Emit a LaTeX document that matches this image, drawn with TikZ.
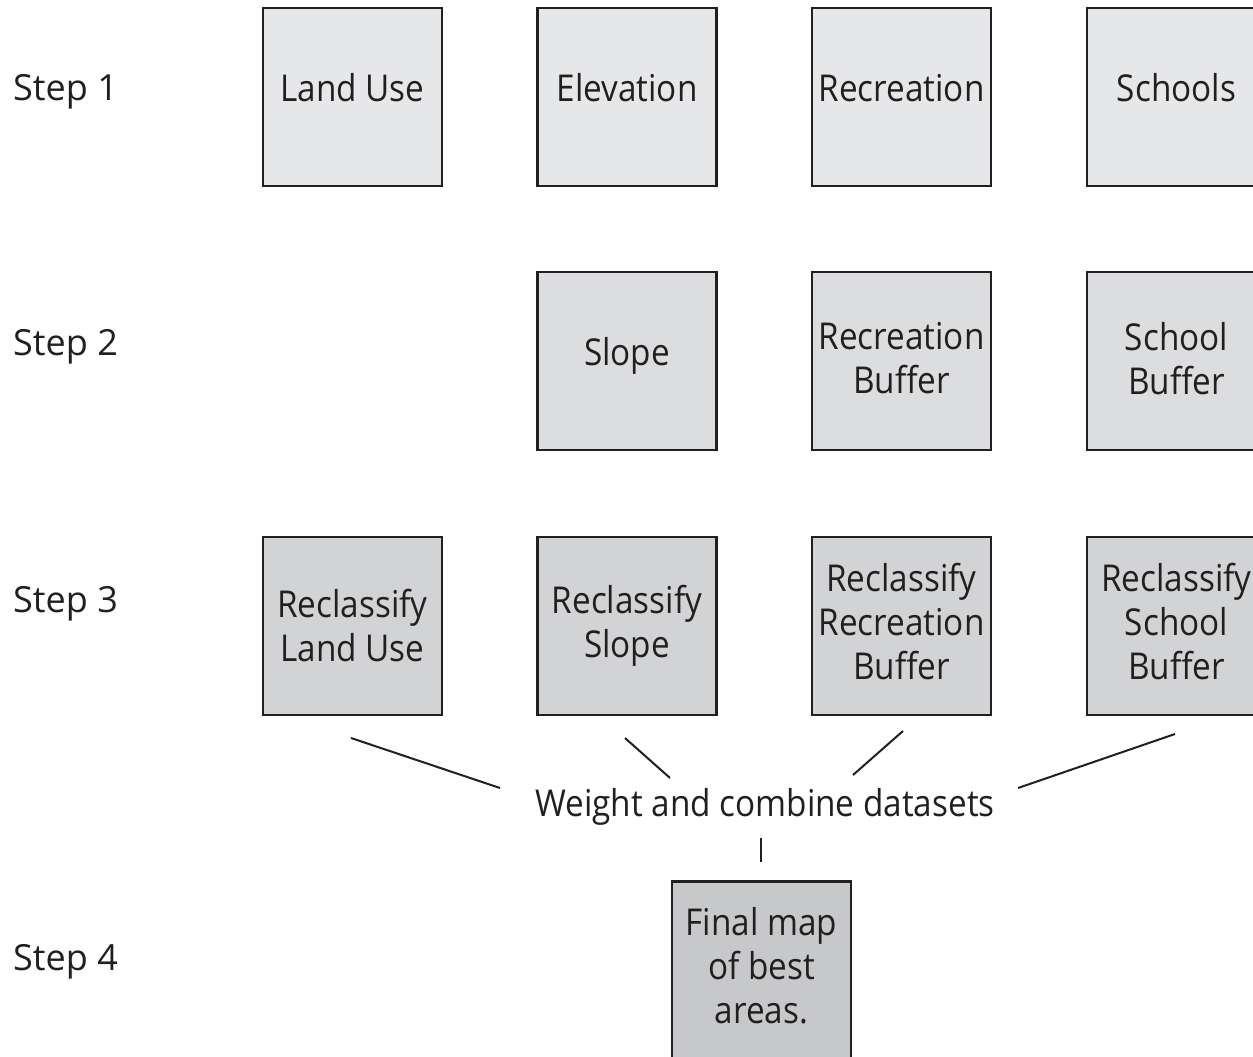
\documentclass[tikz,border=0pt]{standalone}
\usepackage{fontspec}
\setmainfont{Open Sans}[FakeStretch=0.9]
\newfontfamily\stepfont{Open Sans}
\definecolor{ink}{HTML}{231F20}
\definecolor{fillA}{HTML}{E6E7E8}
\definecolor{fillB}{HTML}{DCDDDE}
\definecolor{fillC}{HTML}{D1D3D4}
\definecolor{fillD}{HTML}{C7C8CA}
\begin{document}
\begin{tikzpicture}[x=1pt,y=-1pt,
  box/.style={draw=ink,line width=2.5pt,minimum width=179pt,minimum height=178pt,inner sep=0pt,align=center,text=ink,font=\fontsize{37}{44}\selectfont},
  oneA/.style={text height=27pt,text depth=17pt},
  oneB/.style={text height=27pt,text depth=19pt},
  steplabel/.style={anchor=base west,inner sep=0pt,text=ink,font=\stepfont\fontsize{36}{44}\selectfont},
  conn/.style={draw=ink,line width=2pt}]
\useasboundingbox (0,0) rectangle (1253,1057);
\clip (0,0) rectangle (1253,1057);
\node[steplabel] (s1) at (13,100) {Step 1};
\node[steplabel] (s2) at (13,355) {Step 2};
\node[steplabel] (s3) at (13,612) {Step 3};
\node[steplabel] (s4) at (13,970) {Step 4};
% row 1
\node[box,oneA,fill=fillA] (lu) at (352.5,97) {Land Use};
\node[box,oneA,fill=fillA] (el) at (627,97) {Elevation};
\node[box,oneA,fill=fillA] (re) at (901.5,97) {Recreation};
\node[box,oneA,fill=fillA] (sc) at (1176.5,97) {Schools};
% row 2
\node[box,oneB,fill=fillB] (sl) at (627,361) {Slope};
\node[box,fill=fillB] (rb) at (901.5,361) {Recreation\\Buffer\\[-38pt]};
\node[box,fill=fillB] (sb) at (1176.5,361) {School\\Buffer\\[-38pt]};
% row 3
\node[box,fill=fillC] (rlu) at (352.5,626) {Reclassify\\Land Use};
\node[box,fill=fillC] (rsl) at (627,626) {Reclassify\\Slope};
\node[box,fill=fillC] (rrb) at (901.5,626) {Reclassify\\Recreation\\Buffer\\[-34pt]};
\node[box,fill=fillC] (rsb) at (1176.5,626) {Reclassify\\School\\Buffer\\[-34pt]};
% combine
\node[text=ink,inner sep=0pt,anchor=base,font=\fontsize{37}{44}\selectfont] (wc) at (765,816) {Weight and combine datasets};
% row 4
\node[box,fill=fillD,anchor=north] (fm) at (761.5,880) {Final map\\of best\\areas.\\[-34pt]};
% connectors
\coordinate (a1) at (351,738); \coordinate (b1) at (500,788);
\coordinate (a2) at (625,738); \coordinate (b2) at (670,778);
\coordinate (a3) at (903,731); \coordinate (b3) at (853,775);
\coordinate (a4) at (1175,734); \coordinate (b4) at (1018,788);
\coordinate (a5) at (761,838); \coordinate (b5) at (761,862);
\draw[conn] (a1) -- (b1);
\draw[conn] (a2) -- (b2);
\draw[conn] (a3) -- (b3);
\draw[conn] (a4) -- (b4);
\draw[conn] (a5) -- (b5);
\end{tikzpicture}
\end{document}
